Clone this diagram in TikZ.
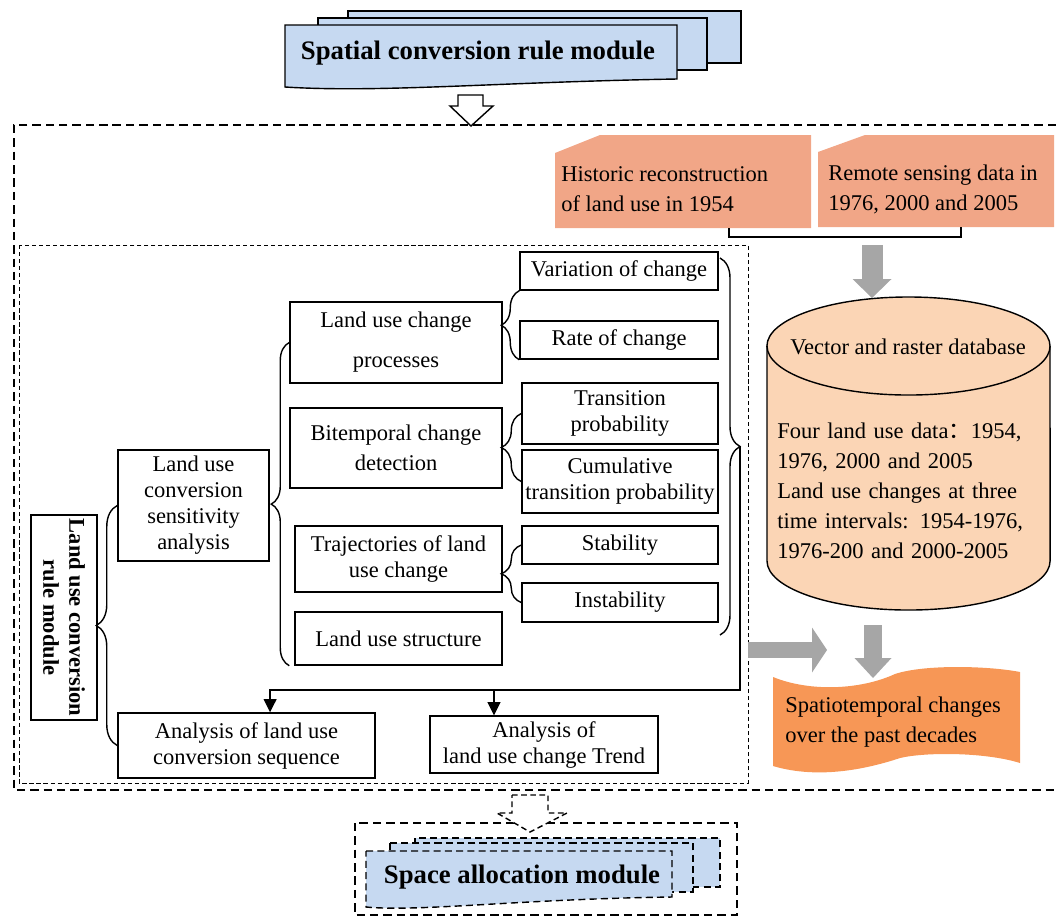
\documentclass[tikz,border=0pt]{standalone}
\usepackage{fontspec}
\setmainfont{Liberation Serif}
\newfontfamily\cjkfont{Noto Sans CJK SC}
\usetikzlibrary{calc,arrows.meta,positioning,decorations.pathreplacing}
\definecolor{modblue}{RGB}{198,217,241}
\definecolor{salmon}{RGB}{241,166,135}
\definecolor{peach}{RGB}{251,213,181}
\definecolor{deeporange}{RGB}{247,151,86}
\definecolor{arrowgray}{RGB}{166,166,166}
\newcommand{\bodyfont}{\fontsize{16}{21.3}\selectfont}
\newcommand{\tightfont}{\fontsize{16}{18.5}\selectfont}
\newcommand{\titlefont}{\fontsize{19}{23}\selectfont\bfseries}

\begin{document}
\begin{tikzpicture}[x=0.025cm,y=-0.025cm,
    box/.style={draw,line width=1pt,fill=white,align=center,inner sep=1pt,font=\tightfont},
    lbrace/.style={decorate,decoration={brace,amplitude=#1},line width=1pt},
    flow/.style={line width=1pt},
    blockarrow/.style n args={3}{draw=arrowgray,line width=#1,
        -{Triangle[length=#2,width=#3,line width=0pt]}}]

\useasboundingbox (0,0) rectangle (1056,917);

% Spatial conversion rule module (stacked pages)
\filldraw[fill=modblue,line width=1pt] (348,11) rectangle (741,63);
\filldraw[fill=modblue,line width=1pt] (318,18) rectangle (707,70);
\filldraw[fill=modblue,line width=1pt] (285,25) -- (677,25) -- (677,79)
    .. controls (500,82) and (380,93) .. (285,87) -- cycle;
\node[font=\titlefont] (scrm) at (478,53) {Spatial conversion rule module};

% Hollow arrow into the frame
\filldraw[fill=white,line width=1pt] (458,95) -- (483,95) -- (483,106) -- (493,106)
    -- (471,126) -- (450,106) -- (458,106) -- cycle;

% Frames
\draw[line width=1pt,dash pattern=on 6pt off 3.5pt] (1056,125) -- (14,125) -- (14,790) -- (1056,790);
\draw[line width=0.6pt,dash pattern=on 3pt off 2pt] (19,245) rectangle (748,783);

% Left column
\node[box,rotate=-90,minimum width=5.125cm,minimum height=1.65cm,font=\tightfont\bfseries] (rule)
    at (64,617.5) {Land use conversion\\rule module};
\node[box,minimum width=3.775cm,minimum height=2.775cm] (sens) at (193.5,505.5)
    {Land use\\conversion\\sensitivity\\analysis};
\node[box,minimum width=6.425cm,minimum height=1.625cm] (seq) at (246.5,745.5)
    {Analysis of land use\\conversion sequence};
\node[box,minimum width=5.7cm,minimum height=1.425cm] (trend) at (544,744.5)
    {Analysis of\\land use change Trend};

% Middle column
\node[box,minimum width=5.3cm,minimum height=2.025cm] (proc) at (396,342.5)
    {Land use change\\[10pt]processes};
\node[box,minimum width=5.3cm,minimum height=2cm] (bitemp) at (396,448)
    {Bitemporal change\\[3pt]detection};
\node[box,minimum width=5.175cm,minimum height=1.65cm] (traj) at (398.5,559)
    {Trajectories of land\\use change};
\node[box,minimum width=5.175cm,minimum height=1.325cm] (struct) at (398.5,638.5)
    {Land use structure};

% Right column
\node[box,minimum width=4.95cm,minimum height=0.95cm] (var) at (619,271) {Variation of change};
\node[box,minimum width=4.95cm,minimum height=0.95cm] (rate) at (619,340) {Rate of change};
\node[box,minimum width=4.9cm,minimum height=1.525cm] (trans) at (620,413.5) {Transition\\probability};
\node[box,minimum width=4.9cm,minimum height=1.575cm] (cum) at (620,481.5)
    {Cumulative\\transition probability};
\node[box,minimum width=4.9cm,minimum height=0.95cm] (stab) at (620,545) {Stability};
\node[box,minimum width=4.9cm,minimum height=0.975cm] (instab) at (620,602.5) {Instability};

% Braces
\draw[lbrace=0.525cm] (seq.west) -- (sens.west);
\draw[lbrace=0.45cm] (struct.south west -| proc.west) -- (proc.west);
\draw[lbrace=0.45cm] (rate.south west) -- (var.south west);
\draw[lbrace=0.5cm] (cum.west) -- (trans.west);
\draw[lbrace=0.5cm] (instab.west) -- (stab.west);
\coordinate (bt) at (720,258);
\coordinate (bb) at (720,635);
\coordinate (btip) at (740,447);
\coordinate (split) at (740,690);
\draw[lbrace=0.5cm] (bt) -- (bb);

% Results of the analysis
\draw[flow,-{Triangle[length=0.33cm,width=0.32cm]}] (btip) -- (split) -| ([xshift=0.59cm]seq.north);
\draw[flow,-{Triangle[length=0.33cm,width=0.32cm]}] ([xshift=-1.25cm]trend.north |- split)
    -- ([xshift=-1.25cm]trend.north);

% Data sources
\fill[salmon] (555,153) -- (600,135) -- (811,135) -- (811,228) -- (555,228) -- cycle;
\node[anchor=west,align=left,font=\bodyfont,inner sep=0pt] (hist) at (561,189)
    {Historic reconstruction\\of land use in 1954};
\fill[salmon] (818,152) -- (865,135) -- (1054,135) -- (1054,227) -- (818,227) -- cycle;
\node[anchor=west,align=left,font=\bodyfont,inner sep=0pt] (rsd) at (828,189)
    {Remote sensing data in\\1976, 2000 and 2005};
\coordinate (hj) at (729,228);
\coordinate (rj) at (961,227);
\draw[flow] (hj) -- ++(0,9) -| (rj);

% Database cylinder
\filldraw[fill=peach,line width=1pt] (767,346) -- (767,561)
    arc[start angle=180,end angle=360,x radius=3.5375cm,y radius=1.225cm] -- (1050,346)
    arc[start angle=0,end angle=180,x radius=3.5375cm,y radius=1.225cm] -- cycle;
\draw[line width=1pt] (767,346) arc[start angle=180,end angle=360,x radius=3.5375cm,y radius=1.225cm];
\node[font=\bodyfont] (vrd) at (908,347) {Vector and raster database};
\node[anchor=west,align=left,font=\bodyfont,inner sep=0pt,text width=6.25cm] (vrdtxt) at (777,491)
    {\makebox[6.25cm][s]{Four land use data{\cjkfont ：}1954,}\\
     1976, 2000 and 2005\\
     \makebox[6.25cm][s]{Land use changes at three}\\
     \makebox[6.25cm][s]{time intervals: 1954-1976,}\\
     1976-200 and 2000-2005};

% Gray block arrows
\coordinate (ga) at (872,245);
\coordinate (cyltop) at (872,298);
\draw[blockarrow={0.525cm}{0.475cm}{0.975cm}] (ga) -- (cyltop);
\coordinate (fr) at (748,650);
\coordinate (frtip) at (827,650);
\draw[blockarrow={0.4cm}{0.375cm}{1.125cm}] (fr) -- (frtip);
\coordinate (cylbot) at (873,625);
\coordinate (stctop) at (873,678);
\draw[blockarrow={0.45cm}{0.5cm}{0.925cm}] (cylbot) -- (stctop);

% Spatiotemporal changes
\fill[deeporange] (773,677) .. controls (810,692) and (860,690) .. (895,674)
    .. controls (925,664) and (990,666) .. (1020,672) -- (1020,763)
    .. controls (985,752) and (925,752) .. (900,758)
    .. controls (870,768) and (820,780) .. (773,766) -- cycle;
\node[anchor=west,align=left,font=\bodyfont,inner sep=0pt] (stc) at (785,722)
    {Spatiotemporal changes\\over the past decades};

% Space allocation module
\draw[line width=1pt,dash pattern=on 6pt off 3.5pt] (355,823) rectangle (737,915);
\filldraw[fill=modblue,line width=1pt,dash pattern=on 5pt off 3pt] (415,838) rectangle (720,887);
\filldraw[fill=modblue,line width=1pt,dash pattern=on 5pt off 3pt] (390,843) rectangle (693,892);
\filldraw[fill=modblue,line width=1pt,dash pattern=on 5pt off 3pt] (366,851) -- (672,851) -- (672,897)
    .. controls (520,899) and (420,912) .. (366,907) -- cycle;
\node[font=\titlefont] (sam) at (522,877) {Space allocation module};
\filldraw[fill=white,line width=1pt,dash pattern=on 4pt off 2.5pt] (512,795) -- (548,795) -- (548,813)
    -- (567,813) -- (530,832) -- (497,813) -- (512,813) -- cycle;

\end{tikzpicture}
\end{document}
